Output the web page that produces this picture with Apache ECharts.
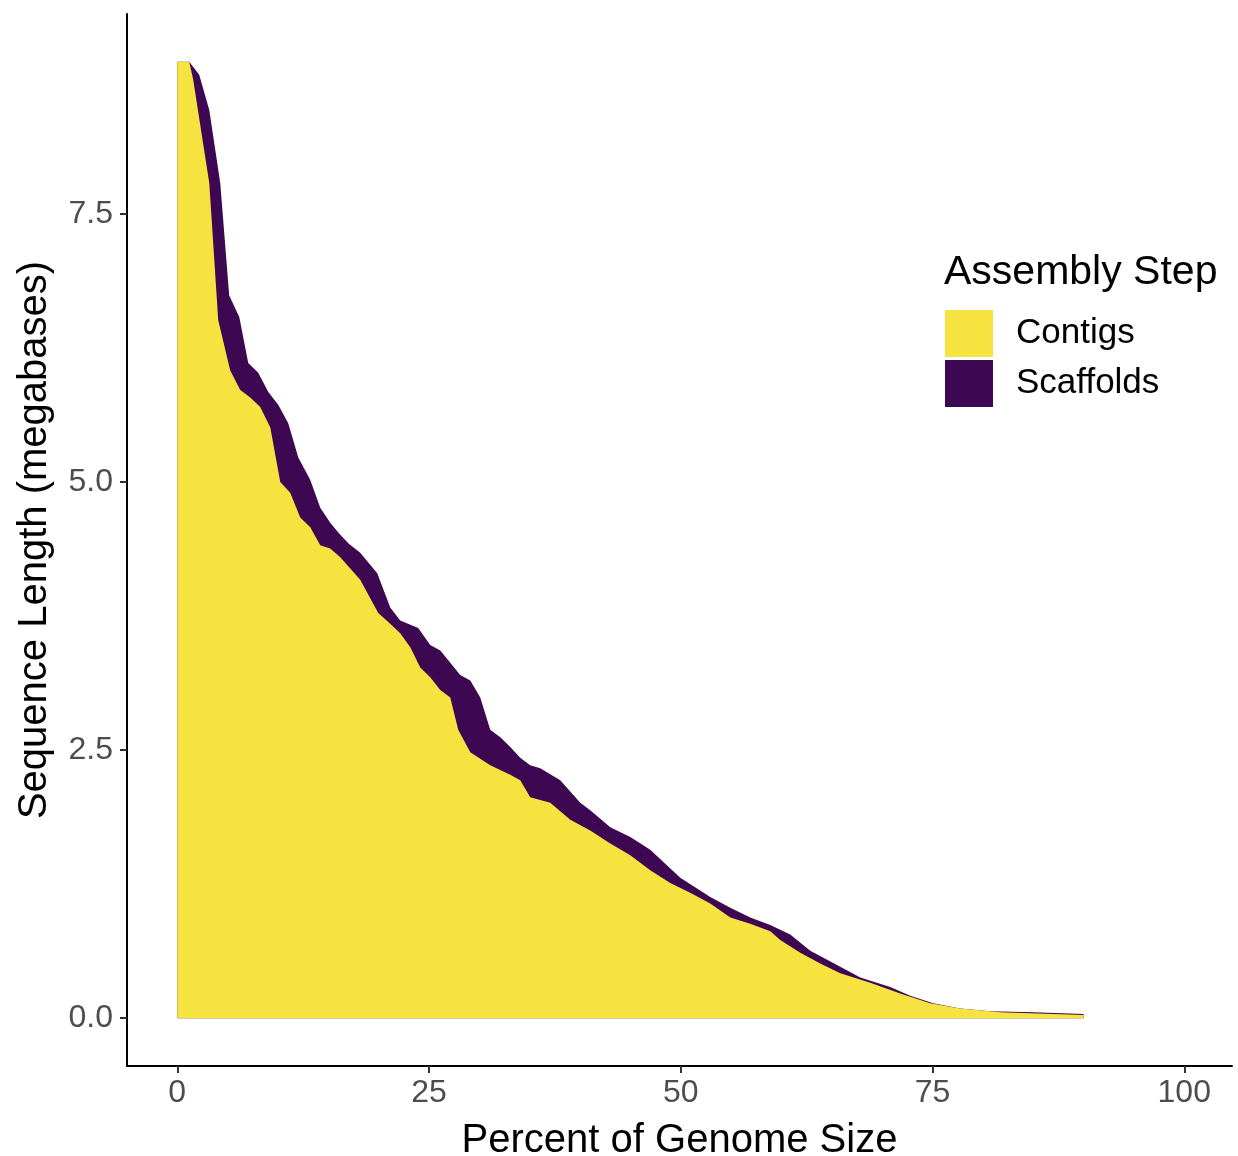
<!DOCTYPE html>
<html>
<head>
<meta charset="utf-8">
<script src="https://cdn.jsdelivr.net/npm/echarts@6/dist/echarts.min.js"></script>
<style>html,body{margin:0;padding:0;background:#fff;}#c{width:1238px;height:1156px;}</style>
</head>
<body>
<div id="c"></div>
<script>
// Percent of genome size (x) and sequence length in megabases (y)
const scaffoldX = [0, 1.19, 2.18, 3.18, 4.27, 5.16, 6.16, 7.05, 8.04, 9.04, 10.04, 11.02, 12.02, 13.21, 14.20, 15.19, 15.99, 16.98, 18.17, 19.86, 21.15, 22.14, 23.93, 25.12, 26.12, 28.10, 29.10, 30.09, 31.08, 32.08, 33.07, 34.06, 35.05, 36.05, 38.03, 40.02, 41.01, 43.00, 44.99, 46.97, 49.95, 52.93, 54.92, 56.90, 58.89, 60.87, 62.86, 65.84, 67.83, 70.80, 72.79, 75.07, 77.76, 80.73, 85.0, 90.0];
const scaffoldY = [8.92, 8.92, 8.80, 8.47, 7.79, 6.74, 6.54, 6.11, 6.02, 5.84, 5.72, 5.55, 5.23, 5.02, 4.76, 4.62, 4.53, 4.43, 4.34, 4.15, 3.83, 3.71, 3.64, 3.48, 3.43, 3.20, 3.15, 2.99, 2.69, 2.62, 2.53, 2.43, 2.36, 2.33, 2.22, 2.01, 1.94, 1.78, 1.69, 1.57, 1.31, 1.13, 1.03, 0.94, 0.87, 0.78, 0.63, 0.48, 0.38, 0.29, 0.21, 0.14, 0.09, 0.065, 0.056, 0.04];
const contigX = [0, 1.19, 1.59, 3.18, 4.07, 5.26, 6.26, 7.25, 8.24, 9.24, 10.23, 11.22, 12.21, 13.21, 14.20, 15.19, 16.19, 18.17, 19.96, 21.15, 22.14, 23.14, 24.13, 25.12, 26.12, 27.11, 27.90, 29.10, 31.08, 33.07, 34.06, 35.05, 37.04, 39.03, 41.01, 43.00, 44.99, 46.97, 48.96, 50.94, 52.93, 54.92, 56.90, 58.89, 59.88, 61.87, 63.85, 65.84, 68.82, 71.80, 74.78, 77.76, 81.73, 90.0];
const contigY = [8.92, 8.92, 8.75, 7.79, 6.51, 6.04, 5.86, 5.79, 5.70, 5.51, 5.00, 4.90, 4.67, 4.58, 4.41, 4.38, 4.30, 4.09, 3.78, 3.68, 3.59, 3.46, 3.27, 3.18, 3.06, 2.99, 2.69, 2.48, 2.36, 2.27, 2.22, 2.06, 2.01, 1.85, 1.75, 1.63, 1.52, 1.38, 1.26, 1.17, 1.07, 0.94, 0.88, 0.81, 0.73, 0.61, 0.51, 0.42, 0.33, 0.23, 0.14, 0.09, 0.056, 0.03];
const xTicks = [0, 25, 50, 75, 100];
const yTicks = [0, 2.5, 5, 7.5];
const seriesNames = ['Contigs', 'Scaffolds'];
const legendTitle = 'Assembly Step';

const FONT = '"Liberation Sans", Arial, Helvetica, sans-serif';
const COL_CONTIG = '#F6E340';
const COL_SCAFF = '#3E0752';

const pairs = (xs, ys) => xs.map((x, i) => [x, ys[i]]);

const chart = echarts.init(document.getElementById('c'), null, {renderer: 'canvas'});
chart.setOption({
  animation: false,
  backgroundColor: '#ffffff',
  textStyle: {fontFamily: FONT},
  grid: {left: 127, right: 6, top: 14, bottom: 90, containLabel: false, outerBoundsMode: 'none'},
  title: {
    text: legendTitle, left: 944, top: 252, padding: 0,
    textStyle: {fontSize: 41, fontWeight: 'normal', color: '#000', fontFamily: FONT}
  },
  legend: {
    orient: 'vertical', left: 945, top: 310, padding: 0,
    itemWidth: 48, itemHeight: 47, itemGap: 3,
    textStyle: {fontSize: 35, color: '#000', fontFamily: FONT, padding: [0, 0, 0, 18]},
    data: [
      {name: seriesNames[0], icon: 'rect', itemStyle: {color: COL_CONTIG}},
      {name: seriesNames[1], icon: 'rect', itemStyle: {color: COL_SCAFF}}
    ]
  },
  xAxis: {
    type: 'value', min: -4.99, max: 104.74,
    name: 'Percent of Genome Size', nameLocation: 'middle', nameGap: 55,
    nameTextStyle: {fontSize: 40, color: '#000', fontFamily: FONT},
    axisLine: {show: true, onZero: false, lineStyle: {color: '#000', width: 2}},
    axisTick: {show: true, length: 7, lineStyle: {color: '#333', width: 2}, customValues: xTicks},
    axisLabel: {fontSize: 32, color: '#4D4D4D', margin: 11, fontFamily: FONT, customValues: xTicks},
    splitLine: {show: false}
  },
  yAxis: {
    type: 'value', min: -0.446, max: 9.366,
    name: 'Sequence Length (megabases)', nameLocation: 'middle', nameGap: 72,
    nameTextStyle: {fontSize: 40, color: '#000', fontFamily: FONT},
    axisLine: {show: true, onZero: false, lineStyle: {color: '#000', width: 2}},
    axisTick: {show: true, length: 7, lineStyle: {color: '#333', width: 2}, customValues: yTicks},
    axisLabel: {fontSize: 32, color: '#4D4D4D', margin: 14, fontFamily: FONT, customValues: yTicks,
      formatter: v => Number(v).toFixed(1)},
    splitLine: {show: false}
  },
  series: [
    {
      name: seriesNames[1], type: 'line', data: pairs(scaffoldX, scaffoldY),
      symbol: 'none', smooth: false, color: COL_SCAFF,
      lineStyle: {width: 0}, areaStyle: {color: COL_SCAFF, opacity: 1, origin: 0}, z: 2
    },
    {
      name: seriesNames[0], type: 'line', data: pairs(contigX, contigY),
      symbol: 'none', smooth: false, color: COL_CONTIG,
      lineStyle: {width: 0}, areaStyle: {color: COL_CONTIG, opacity: 1, origin: 0}, z: 3
    }
  ]
});
</script>
</body>
</html>
